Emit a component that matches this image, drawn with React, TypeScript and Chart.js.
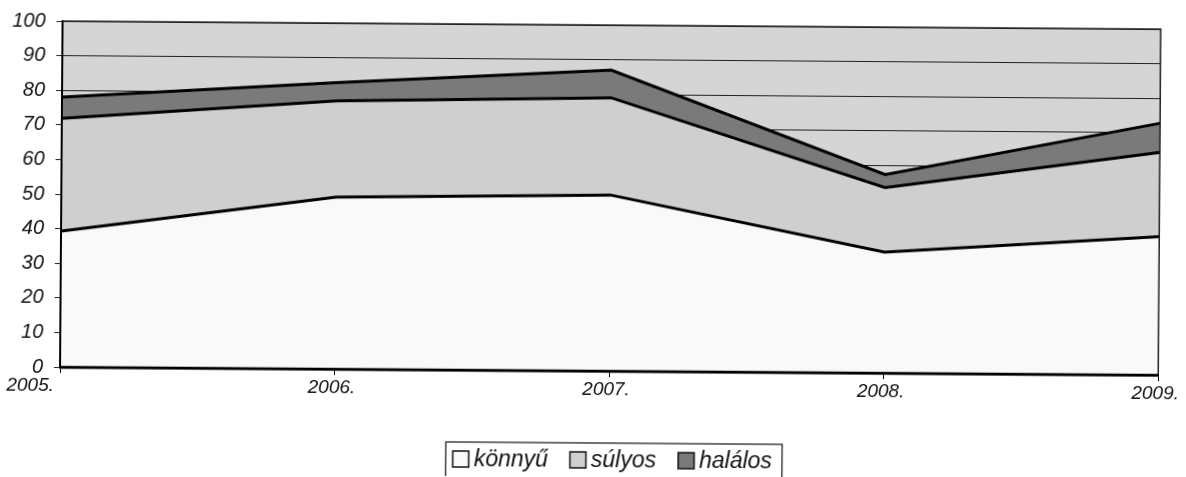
import { useEffect, useRef } from 'react';
import { Chart, registerables } from 'chart.js';

Chart.register(...registerables);

const years = ['2005.', '2006.', '2007.', '2008.', '2009.'];
const konnyu = [39.3, 49.7, 50.9, 35.0, 40.0];
const sulyos = [32.6, 27.8, 28.1, 18.6, 24.4];
const halalos = [6.1, 5.3, 8.0, 3.8, 8.4];
const seriesLabels = ['könnyű', 'súlyos', 'halálos'];

const FONT = '"Liberation Sans", Arial, Helvetica, sans-serif';
const PLOT_BG = '#d5d5d5';
const FILLS = ['#f9f9f9', '#cfcfcf', '#7a7a7a'];

export default function App() {
  const ref = useRef<HTMLCanvasElement>(null);

  useEffect(() => {
    const canvas = ref.current;
    if (!canvas) return;

    const bgPlugin = {
      id: 'plotBg',
      beforeDraw(chart: any) {
        const { ctx, chartArea: a } = chart;
        ctx.save();
        ctx.fillStyle = PLOT_BG;
        ctx.fillRect(a.left, a.top, a.right - a.left, a.bottom - a.top);
        ctx.restore();
      },
    };

    const decoPlugin = {
      id: 'deco',
      afterDraw(chart: any) {
        const { ctx, chartArea: a } = chart;
        ctx.save();
        // plot border top & right
        ctx.strokeStyle = '#222';
        ctx.lineWidth = 1.5;
        ctx.beginPath();
        ctx.moveTo(a.left, a.top);
        ctx.lineTo(a.right, a.top);
        ctx.lineTo(a.right, a.bottom);
        ctx.stroke();
        // axis lines (left, bottom) on top of the fills
        ctx.strokeStyle = '#000';
        ctx.lineWidth = 2;
        ctx.beginPath();
        ctx.moveTo(a.left, a.top);
        ctx.lineTo(a.left, a.bottom);
        ctx.stroke();
        ctx.lineWidth = 2.5;
        ctx.beginPath();
        ctx.moveTo(a.left, a.bottom);
        ctx.lineTo(a.right, a.bottom);
        ctx.stroke();

        // x labels
        const xs = chart.scales.x;
        ctx.fillStyle = '#111';
        ctx.font = `italic 19px ${FONT}`;
        ctx.textBaseline = 'middle';
        years.forEach((lab, i) => {
          const px = xs.getPixelForTick(i);
          if (i === 0) {
            ctx.textAlign = 'right';
            ctx.fillText(lab, px - 6, a.bottom + 19);
          } else {
            ctx.textAlign = 'center';
            ctx.fillText(lab, px - 3, a.bottom + 19);
          }
        });

        // legend
        ctx.font = `italic 23px ${FONT}`;
        ctx.textAlign = 'left';
        const box = 16;
        const gapBoxText = 5;
        const gapItems = 22;
        const widths = seriesLabels.map((l) => ctx.measureText(l).width);
        const total = widths.reduce((s, w) => s + box + gapBoxText + w, 0) + gapItems * (seriesLabels.length - 1);
        const centerX = 614;
        let x = centerX - total / 2;
        const legTop = a.bottom + 72;
        const cy = legTop + 17;
        ctx.strokeStyle = '#111';
        ctx.lineWidth = 1.2;
        ctx.strokeRect(x - 7, legTop, total + 17, 60);
        seriesLabels.forEach((l, i) => {
          ctx.fillStyle = FILLS[i];
          ctx.fillRect(x, cy - box / 2, box, box);
          ctx.lineWidth = 1.5;
          ctx.strokeStyle = '#111';
          ctx.strokeRect(x, cy - box / 2, box, box);
          ctx.fillStyle = '#111';
          ctx.fillText(l, x + box + gapBoxText, cy + 1);
          x += box + gapBoxText + widths[i] + gapItems;
        });
        ctx.restore();
      },
    };

    const ds = (label: string, data: number[], i: number) => ({
      label,
      data,
      fill: i === 0 ? 'origin' : '-1',
      backgroundColor: FILLS[i],
      borderColor: '#000',
      borderWidth: 3,
      pointRadius: 0,
      tension: 0,
    });

    const chart = new Chart(canvas, {
      type: 'line',
      data: {
        labels: years,
        datasets: [ds(seriesLabels[0], konnyu, 0), ds(seriesLabels[1], sulyos, 1), ds(seriesLabels[2], halalos, 2)],
      },
      options: {
        responsive: false,
        animation: false,
        devicePixelRatio: 1,
        layout: { padding: { left: 0, right: 24, top: 25, bottom: 0 } },
        plugins: {
          legend: { display: false },
          tooltip: { enabled: false },
        },
        scales: {
          x: {
            offset: false,
            grid: { drawOnChartArea: false, drawTicks: true, tickLength: 6, color: '#000', lineWidth: 1 },
            border: { color: '#000', width: 2.5 },
            ticks: { color: 'rgba(0,0,0,0)', font: { size: 19, family: FONT }, autoSkip: false, maxRotation: 0 },
            afterFit(scale: any) {
              scale.height = 106;
            },
          },
          y: {
            stacked: true,
            min: 0,
            max: 100,
            ticks: {
              stepSize: 10,
              color: '#111',
              padding: 11,
              font: { size: 20, family: FONT, style: 'italic' },
            },
            grid: { color: '#222', lineWidth: 1, tickLength: 6, drawTicks: true },
            border: { color: '#000', width: 2 },
            afterFit(scale: any) {
              scale.width = 61;
            },
          },
        },
      },
      plugins: [bgPlugin, decoPlugin],
    });

    return () => chart.destroy();
  }, []);

  return (
    <div style={{ position: 'fixed', left: 0, top: 0, width: 1186, height: 477, background: '#fff', overflow: 'hidden' }}>
      <canvas
        ref={ref}
        width={1186}
        height={477}
        style={{ display: 'block', width: 1186, height: 477, transform: 'rotate(0.42deg)', transformOrigin: '593px 238px' }}
      />
    </div>
  );
}
